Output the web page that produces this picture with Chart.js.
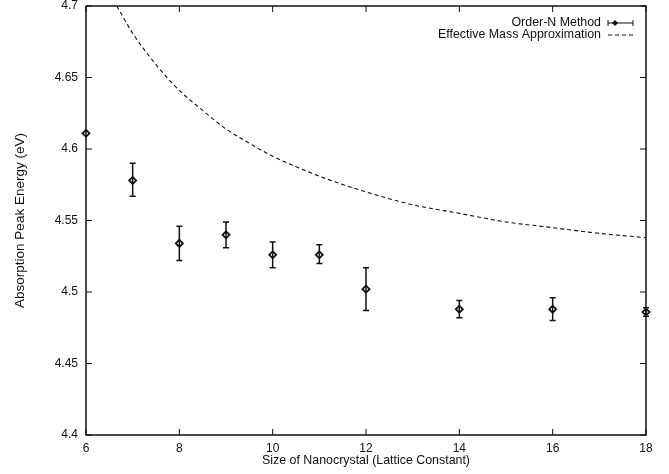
<!DOCTYPE html>
<html>
<head>
<meta charset="utf-8">
<script src="https://cdn.jsdelivr.net/npm/chart.js@4"></script>
<style>
html, body { margin: 0; padding: 0; background: #fff; }
#wrap { width: 669px; height: 474px; }
</style>
</head>
<body>
<div id="wrap"><canvas id="peakChart"></canvas></div>
<script>
// DATA
const sizes = [6, 7, 8, 9, 10, 11, 12, 14, 16, 18];
const peakEnergy = [4.611, 4.578, 4.534, 4.540, 4.526, 4.526, 4.502, 4.488, 4.488, 4.486];
const errLow = [4.611, 4.567, 4.522, 4.531, 4.517, 4.520, 4.487, 4.482, 4.480, 4.483];
const errHigh = [4.611, 4.590, 4.546, 4.549, 4.535, 4.533, 4.517, 4.494, 4.496, 4.489];

const emaSizes = [6.66, 7, 7.5, 8, 8.5, 9, 9.5, 10, 11, 12, 13, 14, 15, 16, 17, 18];
const emaEnergy = [4.700, 4.681, 4.659, 4.641, 4.627, 4.614, 4.604, 4.595, 4.581, 4.570, 4.561, 4.555, 4.549, 4.545, 4.541, 4.538];

const xTicks = ["6", "8", "10", "12", "14", "16", "18"];
const yTicks = ["4.4", "4.45", "4.5", "4.55", "4.6", "4.65", "4.7"];

const seriesNames = ["Order-N Method", "Effective Mass Approximation"];

const FONT = "'Liberation Sans', Arial, sans-serif";
const INK = "#111";

// error bars, inward ticks, frame, legend
const gnuplotLook = {
    id: "gnuplotLook",
    afterDatasetsDraw(chart) {
        const ctx = chart.ctx;
        const xs = chart.scales.x;
        const ys = chart.scales.y;
        const a = chart.chartArea;

        ctx.save();
        ctx.strokeStyle = INK;

        // ERROR BARS
        ctx.lineWidth = 1.5;
        sizes.forEach((s, i) => {
            if (errLow[i] === errHigh[i]) return;
            const px = xs.getPixelForValue(s);
            const top = ys.getPixelForValue(errHigh[i]);
            const bot = ys.getPixelForValue(errLow[i]);
            ctx.beginPath();
            ctx.moveTo(px, top); ctx.lineTo(px, bot);
            ctx.moveTo(px - 3, top); ctx.lineTo(px + 3, top);
            ctx.moveTo(px - 3, bot); ctx.lineTo(px + 3, bot);
            ctx.stroke();
        });

        // FRAME
        ctx.lineWidth = 1.5;
        ctx.strokeRect(a.left, a.top, a.right - a.left, a.bottom - a.top);

        // TICKS (inward, all four sides)
        ctx.lineWidth = 1;
        ctx.beginPath();
        xTicks.forEach(t => {
            const px = xs.getPixelForValue(+t);
            ctx.moveTo(px, a.bottom); ctx.lineTo(px, a.bottom - 6);
            ctx.moveTo(px, a.top); ctx.lineTo(px, a.top + 6);
        });
        yTicks.forEach(t => {
            const py = ys.getPixelForValue(+t);
            ctx.moveTo(a.left, py); ctx.lineTo(a.left + 6, py);
            ctx.moveTo(a.right, py); ctx.lineTo(a.right - 6, py);
        });
        ctx.stroke();

        // LEGEND (text right aligned, sample on the right)
        ctx.font = "12.4px " + FONT;
        ctx.fillStyle = INK;
        ctx.textAlign = "right";
        ctx.textBaseline = "middle";
        const textRight = a.right - 45;
        const s0 = a.right - 38, s1 = a.right - 13;
        const rows = [a.top + 17, a.top + 29];

        ctx.fillText(seriesNames[0], textRight, rows[0]);
        ctx.lineWidth = 1;
        ctx.beginPath();
        ctx.moveTo(s0, rows[0]); ctx.lineTo(s1, rows[0]);
        ctx.moveTo(s0, rows[0] - 3); ctx.lineTo(s0, rows[0] + 3);
        ctx.moveTo(s1, rows[0] - 3); ctx.lineTo(s1, rows[0] + 3);
        ctx.stroke();
        const mx = s0 + 7;
        ctx.beginPath();
        ctx.moveTo(mx, rows[0] - 3); ctx.lineTo(mx + 3, rows[0]);
        ctx.lineTo(mx, rows[0] + 3); ctx.lineTo(mx - 3, rows[0]);
        ctx.closePath();
        ctx.fill();

        ctx.fillText(seriesNames[1], textRight, rows[1]);
        ctx.setLineDash([4, 3]);
        ctx.beginPath();
        ctx.moveTo(s0, rows[1]); ctx.lineTo(s1, rows[1]);
        ctx.stroke();
        ctx.restore();
    }
};

new Chart(document.getElementById("peakChart"), {
    type: "scatter",
    data: {
        datasets: [
            {
                label: seriesNames[0],
                data: sizes.map((s, i) => ({ x: s, y: peakEnergy[i] })),
                pointStyle: "rectRot",
                pointRadius: 3.5,
                pointBackgroundColor: "#fff",
                pointBorderColor: INK,
                pointBorderWidth: 1.8,
                showLine: false,
                clip: false,
                order: 0
            },
            {
                label: seriesNames[1],
                data: emaSizes.map((s, i) => ({ x: s, y: emaEnergy[i] })),
                showLine: true,
                borderColor: INK,
                borderWidth: 1.1,
                borderDash: [4, 3],
                pointRadius: 0,
                cubicInterpolationMode: "monotone",
                order: 1
            }
        ]
    },
    options: {
        responsive: true,
        maintainAspectRatio: false,
        animation: false,
        layout: { padding: { top: 6, right: 23, left: 0, bottom: 0 } },
        plugins: {
            legend: { display: false },
            tooltip: { enabled: false }
        },
        scales: {
            x: {
                type: "linear",
                min: 6,
                max: 18,
                afterBuildTicks: s => { s.ticks = xTicks.map(t => ({ value: +t })); },
                afterFit: s => { s.height = 39; },
                grid: { display: false, drawTicks: false },
                border: { display: false },
                ticks: {
                    callback: (v, i) => xTicks[i],
                    color: INK,
                    font: { family: FONT, size: 12 },
                    padding: 6,
                    maxRotation: 0
                },
                title: {
                    display: true,
                    text: "Size of Nanocrystal (Lattice Constant)",
                    color: INK,
                    font: { family: FONT, size: 12.4 },
                    padding: { top: 0, bottom: 6 }
                }
            },
            y: {
                type: "linear",
                min: 4.4,
                max: 4.7,
                afterBuildTicks: s => { s.ticks = yTicks.map(t => ({ value: +t })); },
                afterFit: s => {
                    s.width = 86;
                    s.paddingTop = 0;
                    s.paddingBottom = 0;
                },
                grid: { display: false, drawTicks: false },
                border: { display: false },
                ticks: {
                    callback: (v, i) => yTicks[i],
                    color: INK,
                    font: { family: FONT, size: 12 },
                    padding: 8
                },
                title: {
                    display: true,
                    text: "Absorption Peak Energy (eV)",
                    color: INK,
                    font: { family: FONT, size: 13.5 },
                    padding: { top: 12, bottom: 0 }
                }
            }
        }
    },
    plugins: [gnuplotLook]
});
</script>
</body>
</html>
